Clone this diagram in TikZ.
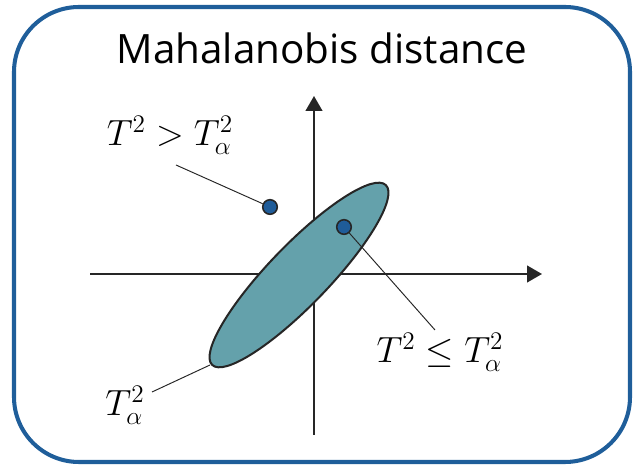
\documentclass[tikz,border=0pt]{standalone}
\usepackage{fontspec}
\setmainfont{Open Sans}
\usepackage{amsmath,amssymb}
\usetikzlibrary{arrows.meta}
\definecolor{frameblue}{HTML}{1F5E9A}
\definecolor{dotblue}{HTML}{1F5C99}
\definecolor{cloud}{HTML}{64A1AB}
\definecolor{ink}{HTML}{262626}

\begin{document}
\begin{tikzpicture}[x=0.02cm,y=-0.02cm,
	every node/.style={font=\fontsize{20}{24}\selectfont},
	axis/.style={draw=ink, line width=1.15pt, -{Triangle[length=8.5pt,width=9.5pt]}},
	sample/.style={circle, draw=ink, line width=0.9pt, fill=dotblue, inner sep=0pt, minimum size=8.3pt},
	leader/.style={draw=ink, line width=0.55pt}]
	\useasboundingbox (0,0) rectangle (633,469);
	\draw[frameblue, line width=2.3pt, rounded corners=1.3cm] (14,7) rectangle (630,462);
	\node[font=\fontsize{23}{27}\selectfont] (title) at (322,48) {Mahalanobis distance};
	% axes
	\coordinate (xstart) at (90,274);
	\coordinate (xend) at (542,274);
	\coordinate (ystart) at (314,435);
	\coordinate (yend) at (314,96);
	\draw[axis] (xstart) -- (xend);
	\draw[axis] (ystart) -- (yend);
	% confidence ellipse
	\draw[fill=cloud, draw=ink, line width=1.15pt, rotate around={46:(299,275)}] (299,275) ellipse [x radius=125, y radius=30];
	% samples
	\node[sample] (pout) at (270,207) {};
	\node[sample] (pin) at (344,227) {};
	% labels
	\node (gt) at (170,135) {$T^2 > T_\alpha^2$};
	\node (le) at (440,352) {$T^2 \leq T_\alpha^2$};
	\node (lim) at (125,405) {$T_\alpha^2$};
	\coordinate (gtfoot) at (176,165);
	\coordinate (lefoot) at (435,330);
	\coordinate (limfoot) at (152,392);
	\coordinate (rim) at (210,365);
	\draw[leader] (gtfoot) -- (pout);
	\draw[leader] (pin) -- (lefoot);
	\draw[leader] (rim) -- (limfoot);
\end{tikzpicture}
\end{document}
